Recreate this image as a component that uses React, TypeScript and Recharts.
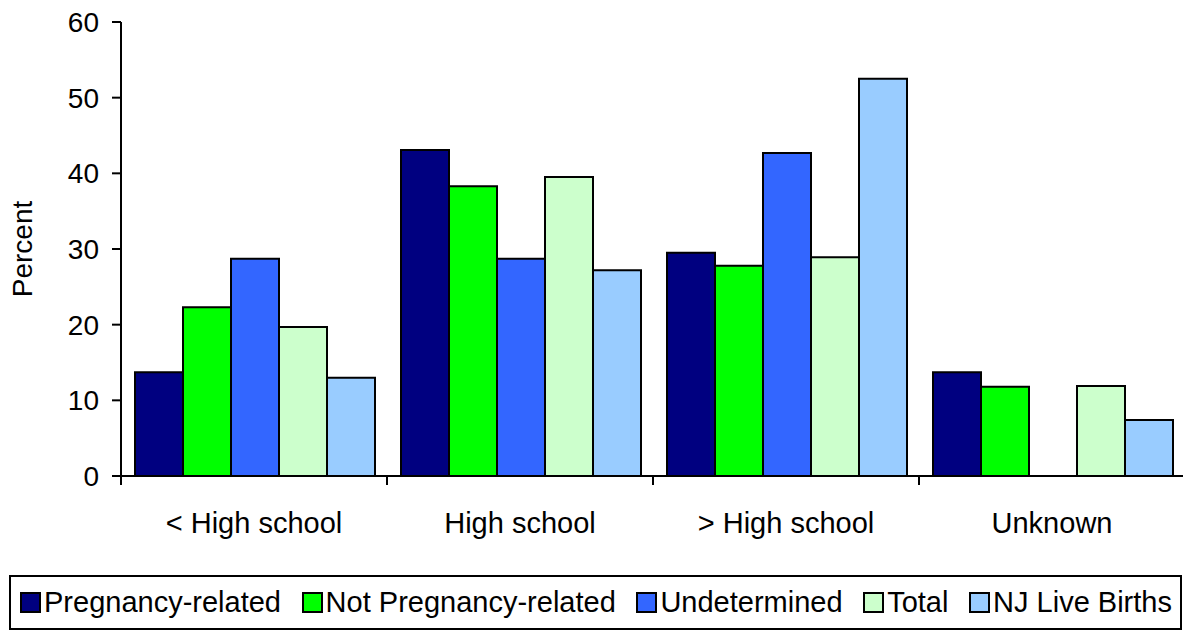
import React from "react";
import { BarChart, Bar, XAxis, YAxis } from "recharts";

const categories = ["< High school", "High school", "> High school", "Unknown"];
const pregnancyRelated = [13.7, 43.1, 29.5, 13.7];
const notPregnancyRelated = [22.3, 38.3, 27.8, 11.8];
const undetermined = [28.7, 28.7, 42.7, 0];
const total = [19.7, 39.5, 28.9, 11.9];
const njLiveBirths = [13.0, 27.2, 52.5, 7.4];
const yTicks = [0, 10, 20, 30, 40, 50, 60];

const series = [
  { key: "pr", name: "Pregnancy-related", color: "#000080", values: pregnancyRelated },
  { key: "npr", name: "Not Pregnancy-related", color: "#00FF00", values: notPregnancyRelated },
  { key: "und", name: "Undetermined", color: "#3366FF", values: undetermined },
  { key: "tot", name: "Total", color: "#CCFFCC", values: total },
  { key: "nj", name: "NJ Live Births", color: "#99CCFF", values: njLiveBirths },
];

const data = categories.map((cat, i) => {
  const row: Record<string, string | number> = { cat };
  series.forEach((s) => (row[s.key] = s.values[i]));
  return row;
});

const FONT = '"Liberation Sans", Arial, sans-serif';
const CHART_W = 1185;
const CHART_H = 560;
const Y_AXIS_W = 121;
const BAND = (CHART_W - Y_AXIS_W) / categories.length;

// category ticks: label at the centre, tick mark on the left boundary
function CategoryTick(props: any) {
  const { x, y, payload } = props;
  const left = x - BAND / 2;
  return (
    <g>
      <line x1={left} y1={y} x2={left} y2={y + 9} stroke="#000" strokeWidth={2} />
      <text x={x} y={y + 57} textAnchor="middle" fontSize={29} fill="#000" fontFamily={FONT}>
        {payload.value}
      </text>
    </g>
  );
}

function Legend() {
  return (
    <div
      style={{
        position: "absolute",
        left: 9,
        top: 575,
        width: 1173,
        height: 55,
        boxSizing: "border-box",
        border: "2px solid #000",
        display: "flex",
        alignItems: "center",
        justifyContent: "space-between",
        padding: "0 8px 0 9px",
        fontFamily: FONT,
        fontSize: 29,
        color: "#000",
        whiteSpace: "nowrap",
      }}
    >
      {series.map((s) => (
        <div key={s.key} style={{ display: "flex", alignItems: "center" }}>
          <span
            style={{
              display: "inline-block",
              width: 21,
              height: 21,
              boxSizing: "border-box",
              border: "2px solid #000",
              background: s.color,
              marginRight: 3,
            }}
          />
          <span>{s.name}</span>
        </div>
      ))}
    </div>
  );
}

export default function App() {
  return (
    <div
      style={{
        position: "absolute",
        left: 0,
        top: 0,
        width: 1183,
        height: 633,
        overflow: "hidden",
        background: "#fff",
        fontFamily: FONT,
      }}
    >
      <BarChart
        width={CHART_W}
        height={CHART_H}
        data={data}
        margin={{ top: 22, right: 0, bottom: 0, left: 0 }}
        barCategoryGap={14}
        barGap={0}
      >
        <XAxis
          dataKey="cat"
          interval={0}
          height={CHART_H - 22 - 454}
          tickLine={false}
          tickSize={0}
          tickMargin={0}
          axisLine={{ stroke: "#000", strokeWidth: 2 }}
          tick={<CategoryTick />}
        />
        <YAxis
          width={Y_AXIS_W}
          domain={[0, 60]}
          ticks={yTicks}
          interval={0}
          tickSize={9}
          tickMargin={13}
          axisLine={{ stroke: "#000", strokeWidth: 2 }}
          tickLine={{ stroke: "#000", strokeWidth: 2 }}
          tick={{ fontSize: 28, fill: "#000", fontFamily: FONT }}
          label={{
            value: "Percent",
            angle: -90,
            position: "insideLeft",
            offset: 22,
            style: { textAnchor: "middle" },
            fontSize: 28,
            fill: "#000",
            fontFamily: FONT,
          }}
        />
        {series.map((s) => (
          <Bar
            key={s.key}
            dataKey={s.key}
            name={s.name}
            fill={s.color}
            stroke="#000"
            strokeWidth={2}
            isAnimationActive={false}
          />
        ))}
      </BarChart>
      <Legend />
    </div>
  );
}
